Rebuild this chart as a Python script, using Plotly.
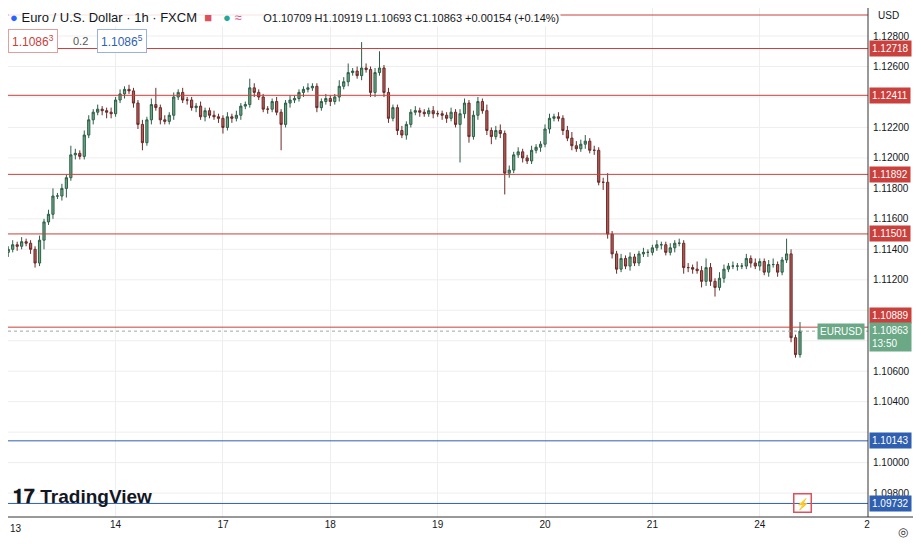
import plotly.graph_objects as go

close = [1.1133,1.1138,1.1140,1.1143,1.1142,1.1145,1.1144,1.1140,1.1131,1.1146,
1.1158,1.1163,1.1175,1.1175,1.1180,1.1187,1.1202,1.1203,1.1201,1.1215,
1.1225,1.1230,1.1232,1.1231,1.1230,1.1229,1.1238,1.1242,1.1245,1.1244,
1.1236,1.1222,1.1210,1.1225,1.1235,1.1233,1.1225,1.1224,1.1228,1.1240,
1.1243,1.1238,1.1238,1.1233,1.1234,1.1227,1.1231,1.1228,1.1227,1.1226,
1.1220,1.1227,1.1226,1.1228,1.1234,1.1235,1.1246,1.1243,1.1240,1.1232,
1.1232,1.1237,1.1230,1.1222,1.1236,1.1238,1.1239,1.1243,1.1245,1.1246,
1.1247,1.1233,1.1237,1.1239,1.1237,1.1240,1.1247,1.1250,1.1256,1.1257,
1.1254,1.1259,1.1258,1.1243,1.1256,1.1259,1.1243,1.1226,1.1233,1.1218,
1.1215,1.1222,1.1230,1.1231,1.1230,1.1229,1.1231,1.1229,1.1229,1.1228,
1.1226,1.1230,1.1222,1.1229,1.1236,1.1214,1.1228,1.1237,1.1231,1.1218,
1.1214,1.1218,1.1216,1.1190,1.1192,1.1202,1.1204,1.1200,1.1198,1.1205,
1.1207,1.1209,1.1219,1.1226,1.1227,1.1226,1.1218,1.1213,1.1208,1.1206,
1.1209,1.1211,1.1205,1.1205,1.1184,1.1184,1.1150,1.1137,1.1127,1.1134,
1.1129,1.1135,1.1131,1.1137,1.1138,1.1138,1.1141,1.1143,1.1143,1.1138,
1.1141,1.1144,1.1144,1.1128,1.1128,1.1127,1.1126,1.1119,1.1128,1.1119,
1.1115,1.1121,1.1127,1.1129,1.1129,1.1129,1.1129,1.1134,1.1131,1.1129,
1.1132,1.1125,1.1130,1.1130,1.1125,1.1133,1.1137,1.1082,1.10709,1.10863]
first_open = 1.1130
upper_pips = [2,3,2,3,2,3,2,2,2,3,2,3,5,2,3,2,6,3,2,3,
3,2,3,2,2,3,2,3,2,3,2,2,3,2,4,11,2,3,2,3,
2,3,2,2,2,3,2,2,3,2,2,3,2,3,2,2,6,3,2,2,
2,2,3,2,2,3,2,2,2,3,2,2,2,3,2,2,4,3,6,2,
3,17,3,2,3,11,2,3,2,2,3,2,2,3,2,2,2,3,2,2,
2,3,2,3,3,2,3,3,2,4,2,3,4,2,3,2,3,2,2,3,
2,2,3,3,2,3,2,3,4,3,3,4,2,3,2,3,6,2,2,3,
2,3,2,2,3,2,2,3,2,2,3,2,3,2,3,2,5,3,6,3,
2,4,3,2,3,2,2,3,2,3,2,2,3,4,2,2,10,3,2,6]
lower_pips = [3,2,3,2,3,2,2,3,3,2,6,2,3,2,3,6,2,3,2,2,
2,3,2,3,4,3,2,2,3,2,3,3,5,2,3,2,3,2,2,3,
2,2,3,2,3,2,3,2,2,3,4,2,3,2,3,2,2,3,2,2,
3,2,2,17,2,3,2,2,3,2,2,3,2,2,3,2,3,2,3,2,
2,3,2,3,3,2,3,3,2,3,2,3,2,2,3,2,2,3,2,3,
3,2,2,25,3,4,2,3,2,3,5,2,3,14,3,2,2,3,2,2,
2,3,2,3,2,2,3,2,3,2,2,3,2,3,2,5,3,3,3,2,
2,3,2,2,2,3,2,2,3,2,2,3,2,4,3,3,2,4,3,3,
6,2,3,2,2,3,2,2,3,2,3,2,3,2,3,2,2,3,2,2]
day_labels = ["13","14","17","18","19","20","21","24","2"]
day_index = [2,26,50,74,98,122,146,170,194]
red_levels = [1.12718,1.12411,1.11892,1.11501,1.10889]
blue_levels = [1.10143,1.09732]
top_line = 1.12938
last_price = 1.10863
tick_values = [1.128,1.126,1.122,1.120,1.118,1.116,1.114,1.112,1.106,1.104,1.100,1.098]
grid_values = [1.128,1.126,1.124,1.122,1.120,1.118,1.116,1.114,1.112,1.110,1.108,1.106,1.104,1.102,1.100,1.098]

opens = [first_open] + close[:-1]
highs = [max(o,c)+u*0.0001 for o,c,u in zip(opens,close,upper_pips)]
lows = [min(o,c)-l*0.0001 for o,c,l in zip(opens,close,lower_pips)]
idx = list(range(len(close)))

RED = "#c9403c"; BLUE = "#2f5fb0"; GREEN = "#6aa886"
FONT = "Liberation Sans"
fig = go.Figure(go.Candlestick(x=idx, open=opens, high=highs, low=lows, close=close,
    increasing=dict(line=dict(color="#2d5e47", width=1), fillcolor=GREEN),
    decreasing=dict(line=dict(color="#6b2b28", width=1), fillcolor="#b75a55"),
    whiskerwidth=0, hoverinfo="skip"))

shapes = []
for g in grid_values:
    shapes.append(dict(type="line", xref="paper", x0=0, x1=1, y0=g, y1=g, layer="below", line=dict(color="#eeeeee", width=1)))
for lv in red_levels + [top_line]:
    shapes.append(dict(type="line", xref="paper", x0=0, x1=1, y0=lv, y1=lv, line=dict(color=RED, width=1)))
for lv in blue_levels:
    shapes.append(dict(type="line", xref="paper", x0=0, x1=1, y0=lv, y1=lv, line=dict(color=BLUE, width=1)))
shapes.append(dict(type="line", xref="paper", x0=0, x1=1, y0=last_price, y1=last_price, line=dict(color="#9aa89f", width=1, dash="dot")))
shapes.append(dict(type="line", xref="paper", yref="paper", x0=1, x1=1, y0=0, y1=1, line=dict(color="#333", width=1)))
shapes.append(dict(type="line", xref="paper", yref="paper", x0=0, x1=1.062, y0=0, y1=0, line=dict(color="#333", width=1)))

ann = []
def lab(lv, color, text=None, yshift=0):
    return dict(x=1, xref="paper", y=lv, text=text or f"{lv:.5f}", xanchor="left", xshift=1, yshift=yshift,
        showarrow=False, bgcolor=color, align="left",
        font=dict(color="white", size=10, family=FONT), borderpad=2)
for lv in red_levels:
    ann.append(lab(lv, RED, yshift=12 if lv == red_levels[-1] else 0))
for lv in blue_levels:
    ann.append(lab(lv, BLUE))
ann.append(lab(last_price, GREEN, f"{last_price:.5f}<br>13:50", yshift=-6))
ann.append(dict(x=1, xref="paper", y=last_price, text="EURUSD", xanchor="right", xshift=-3, showarrow=False,
    bgcolor=GREEN, font=dict(color="white", size=10, family=FONT), borderpad=2))
ann.append(dict(x=day_index[0], y=0, yref="paper", xanchor="left", yanchor="top", yshift=-4, showarrow=False,
    text=day_labels[0], font=dict(size=10, color="#131722", family=FONT)))
ann.append(dict(x=0.0, y=1, xref="paper", yref="paper", xanchor="left", yanchor="top", showarrow=False,
    text="<span style='color:#2962ff'>●</span> Euro / U.S. Dollar · 1h · FXCM  <span style='color:#e0505a'>■</span>   "
         "<span style='color:#26a69a'>●</span> <span style='color:#e05080'>≈</span>      "
         "<span style='font-size:11px'>O1.10709 H1.10919 L1.10693 C1.10863 +0.00154 (+0.14%)</span>",
    font=dict(size=13, color="#131722", family=FONT), bgcolor="rgba(255,255,255,0.85)"))
ann.append(dict(x=0.0, y=0.935, xref="paper", yref="paper", xanchor="left", yanchor="middle", showarrow=False,
    text="1.1086<sup>3</sup>", font=dict(size=12, color="#c9403c", family=FONT),
    bordercolor="#e0a0a0", borderwidth=1, borderpad=3, bgcolor="white"))
ann.append(dict(x=0.073, y=0.935, xref="paper", yref="paper", xanchor="left", yanchor="middle", showarrow=False,
    text="0.2", font=dict(size=11, color="#555", family=FONT)))
ann.append(dict(x=0.103, y=0.935, xref="paper", yref="paper", xanchor="left", yanchor="middle", showarrow=False,
    text="1.1086<sup>5</sup>", font=dict(size=12, color="#2f5fb0", family=FONT),
    bordercolor="#9ab0e0", borderwidth=1, borderpad=3, bgcolor="white"))
ann.append(dict(x=1, y=1, xref="paper", yref="paper", xanchor="left", yanchor="top", xshift=8, showarrow=False,
    text="USD", font=dict(size=10, color="#131722", family=FONT)))
ann.append(dict(x=0.003, y=0.041, xref="paper", yref="paper", xanchor="left", yanchor="middle", showarrow=False,
    text="<b>𝟏𝟕 TradingView</b>", font=dict(size=19, color="#131722", family=FONT)))
ann.append(dict(x=0.924, y=0.027, xref="paper", yref="paper", xanchor="center", yanchor="middle", showarrow=False,
    text="⚡", font=dict(size=11, color="#e0505a"), bordercolor="#e0505a", borderwidth=1.5, borderpad=1))
ann.append(dict(x=1, y=0, xref="paper", yref="paper", xanchor="left", yanchor="top", xshift=28, yshift=-4, showarrow=False,
    text="◎", font=dict(size=12, color="#333")))

fig.update_layout(width=913, height=536, margin=dict(l=0, r=53, t=0, b=27, autoexpand=False),
    paper_bgcolor="white", plot_bgcolor="white", showlegend=False,
    shapes=shapes, annotations=ann,
    xaxis=dict(range=[1.95, 194.2], tickvals=day_index, ticktext=day_labels, showgrid=True, automargin=False,
        gridcolor="#eeeeee", rangeslider=dict(visible=False), zeroline=False,
        tickfont=dict(size=10, color="#131722", family=FONT), ticks=""),
    yaxis=dict(side="right", range=[1.09643, 1.12984], tickvals=tick_values, automargin=False,
        ticktext=[f"{t:.5f}" for t in tick_values], showgrid=False, zeroline=False,
        tickfont=dict(size=10, color="#131722", family=FONT), ticks="", ticklabelstandoff=4))
fig.write_html("out.html")
